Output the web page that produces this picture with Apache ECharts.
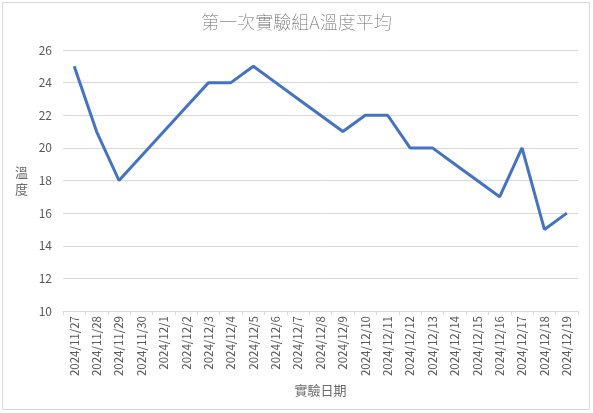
<!DOCTYPE html>
<html>
<head>
<meta charset="utf-8">
<script src="https://cdn.jsdelivr.net/npm/echarts@6/dist/echarts.min.js"></script>
<style>
html,body{margin:0;padding:0;background:#fff;}
#c{width:593px;height:413px;}
</style>
</head>
<body>
<div id="c"></div>
<script>
const titleText = '第一次實驗組A溫度平均';
const xName = '實驗日期';
const yName = '溫\n度';
const categories = ['2024/11/27','2024/11/28','2024/11/29','2024/11/30','2024/12/1','2024/12/2','2024/12/3','2024/12/4','2024/12/5','2024/12/6','2024/12/7','2024/12/8','2024/12/9','2024/12/10','2024/12/11','2024/12/12','2024/12/13','2024/12/14','2024/12/15','2024/12/16','2024/12/17','2024/12/18','2024/12/19'];
const temps = [25,21,18,19.5,21,22.5,24,24,25,24,23,22,21,22,22,20,20,19,18,17,20,15,16];
const yTicks = [10,12,14,16,18,20,22,24,26];

const font = '"Noto Sans CJK TC", "Noto Sans", sans-serif';
const chart = echarts.init(document.getElementById('c'), null, {renderer:'canvas'});
chart.setOption({
  backgroundColor:'#fff',
  animation:false,
  title:{text:titleText,left:'center',top:8,textStyle:{fontFamily:font,fontSize:18,fontWeight:'lighter',color:'#6a6a6a'}},
  graphic:[{type:'rect',shape:{x:2.5,y:2.5,width:587,height:407},style:{fill:'none',stroke:'#d9d9d9',lineWidth:1}}],
  grid:{left:63,right:15,top:50,bottom:102},
  xAxis:{type:'category',data:categories,boundaryGap:true,
    name:xName,nameLocation:'middle',nameGap:72,nameTextStyle:{fontFamily:font,fontSize:13,color:'#6a6a6a'},
    axisLine:{lineStyle:{color:'#d9d9d9',width:1}},
    axisTick:{show:true,alignWithLabel:false,length:4,lineStyle:{color:'#d9d9d9'}},
    axisLabel:{rotate:90,interval:0,fontFamily:font,fontSize:11.5,color:'#595959',margin:5}},
  yAxis:{type:'value',min:yTicks[0],max:yTicks[yTicks.length-1],interval:2,
    name:yName,nameLocation:'middle',nameRotate:0,nameGap:35,nameTextStyle:{fontFamily:font,fontSize:13,color:'#6a6a6a',lineHeight:17},
    axisLine:{show:false},axisTick:{show:false},
    splitLine:{lineStyle:{color:'#d9d9d9',width:1}},
    axisLabel:{fontFamily:font,fontSize:12,color:'#595959',margin:11}},
  series:[{type:'line',data:temps,symbol:'none',lineStyle:{color:'#4472C4',width:3},itemStyle:{color:'#4472C4'}}]
});
</script>
</body>
</html>
